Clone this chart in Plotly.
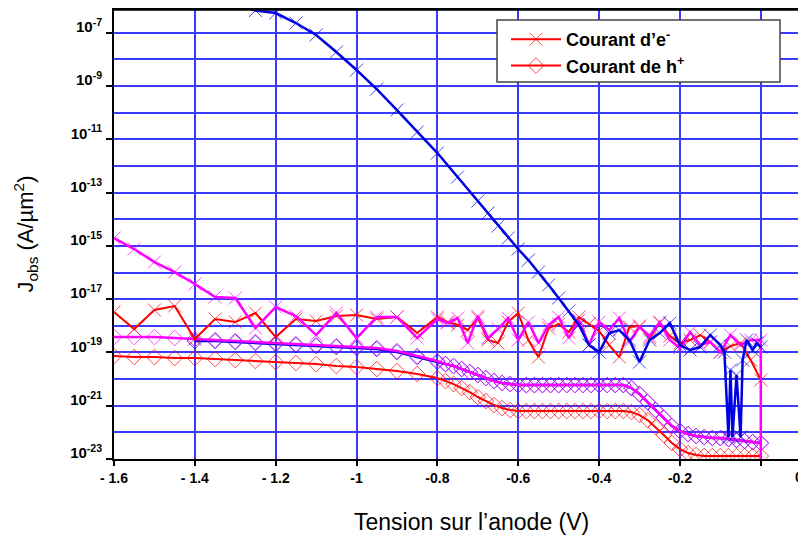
import plotly.graph_objects as go

# ---------------- data ----------------
# noisy electron-current sweeps (x markers)
x_noisy = [-1.6, -1.55, -1.5, -1.45, -1.4, -1.35, -1.3, -1.25, -1.2, -1.15, -1.1, -1.05,
           -1.0, -0.95, -0.9, -0.85, -0.8,
           -0.775, -0.75, -0.725, -0.7, -0.675, -0.65, -0.625, -0.6, -0.575, -0.55,
           -0.525, -0.5, -0.475, -0.45, -0.425, -0.4, -0.375, -0.35, -0.325, -0.3,
           -0.275, -0.25, -0.225, -0.2, -0.175, -0.15, -0.125, -0.1, -0.075, -0.05,
           -0.025, 0.0]

red_e = [3.28e-18, 7.55e-19, 3.90e-18, 5.51e-18, 3.18e-19, 1.79e-18, 1.38e-18, 3.01e-18,
         3.78e-19, 1.79e-18, 1.51e-18, 2.32e-18, 2.53e-18, 1.79e-18, 2.13e-18, 5.33e-19,
         2.13e-18,
         1.38e-18, 1.07e-18, 6.92e-19, 1.95e-18, 2.92e-19, 2.25e-19, 1.38e-18, 3.01e-18,
         2.92e-19, 6.71e-20, 8.20e-19, 1.16e-18, 5.82e-19, 2.13e-18, 1.16e-18, 6.35e-19,
         1.89e-19, 6.71e-20, 8.97e-19, 9.80e-19, 3.47e-19, 1.27e-18, 4.12e-19, 2.25e-19,
         2.92e-19, 4.49e-19, 2.45e-19, 1.03e-19, 1.73e-19, 2.25e-19, 5.18e-20, 9.20e-21]

x_mag_e = x_noisy + [0.0]
mag_e = [1.96e-15, 7.59e-16, 2.47e-16, 1.04e-16, 3.69e-17, 1.20e-17, 1.10e-17, 8.20e-19,
         5.05e-18, 2.32e-18, 4.49e-19, 3.01e-18, 3.47e-19, 2.13e-18, 2.13e-18, 3.47e-19,
         1.79e-18,
         1.27e-18, 1.95e-18, 2.25e-19, 2.32e-18, 3.47e-19, 7.55e-19, 1.95e-18, 2.92e-19,
         1.38e-18, 2.25e-19, 1.07e-18, 2.13e-18, 3.47e-19, 1.64e-18, 1.89e-19, 1.38e-18,
         6.92e-19, 1.95e-18, 2.45e-19, 8.97e-19, 4.12e-19, 1.38e-18, 2.92e-19, 1.46e-19,
         5.82e-19, 1.89e-19, 2.45e-19, 1.03e-19, 4.49e-19, 1.89e-19, 2.92e-19, 2.92e-19,
         3.85e-24]

x_blue_e = [-1.3, -1.25, -1.2, -1.15, -1.1, -1.05, -1.0, -0.95, -0.9, -0.85, -0.8, -0.75,
            -0.7, -0.675, -0.65, -0.625, -0.6, -0.575, -0.55, -0.525, -0.5, -0.475, -0.45,
            -0.425, -0.4, -0.375, -0.35, -0.325, -0.3, -0.275, -0.25, -0.225, -0.2, -0.175,
            -0.15, -0.125, -0.1, -0.09, -0.08, -0.075, -0.07, -0.06, -0.05, -0.045, -0.035,
            -0.02, -0.01, 0.0]
blue_e = [1.19e-6, 6.8e-7, 5.48e-7, 2.31e-7, 8.2e-8, 1.89e-8, 3.98e-9, 7.7e-10, 1.25e-10,
          1.87e-11, 3.05e-12, 3.83e-13, 4.81e-14, 1.70e-14, 5.55e-15, 1.96e-15, 7.59e-16,
          2.93e-16, 1.04e-16, 3.38e-17, 1.10e-17, 3.57e-18, 1.07e-18, 1.89e-19, 1.03e-19,
          5.33e-19, 6.92e-19, 2.92e-19, 4.36e-20, 2.92e-19, 5.33e-19, 1.27e-18, 1.89e-19,
          1.23e-19, 1.59e-19, 4.49e-19, 1.89e-19, 1.03e-19, 6.67e-23, 2.18e-20, 6.67e-23,
          1.42e-20, 6.67e-23, 5.18e-20, 2.92e-19, 1.23e-19, 2.25e-19, 1.59e-19]

# hole-current sweeps (diamond markers)
x_diam = [-1.6, -1.55, -1.5, -1.45, -1.4, -1.35, -1.3, -1.25, -1.2, -1.15, -1.1, -1.05,
          -1.0, -0.95, -0.9, -0.85, -0.8,
          -0.78, -0.76, -0.74, -0.72, -0.7, -0.68, -0.66, -0.64, -0.62, -0.6, -0.58, -0.56,
          -0.54, -0.52, -0.5, -0.48, -0.46, -0.44, -0.42, -0.4, -0.38, -0.36, -0.34, -0.32,
          -0.3, -0.28, -0.26, -0.24, -0.22, -0.2, -0.18, -0.16, -0.14, -0.12, -0.1, -0.08,
          -0.06, -0.04, -0.02, 0.0]

red_h = [7.31e-20, 6.71e-20, 6.71e-20, 6.15e-20, 6.15e-20, 5.65e-20, 5.18e-20, 4.75e-20,
         4.36e-20, 4.00e-20, 3.66e-20, 3.08e-20, 2.83e-20, 2.38e-20, 2.00e-20, 1.55e-20,
         1.09e-20,
         8.44e-21, 6.50e-21, 4.60e-21, 3.26e-21, 2.12e-21, 1.50e-21, 1.06e-21, 8.18e-22,
         6.89e-22, 6.31e-22, 6.31e-22, 6.31e-22, 6.31e-22, 6.31e-22, 6.31e-22, 6.31e-22,
         6.31e-22, 6.31e-22, 6.31e-22, 6.31e-22, 6.31e-22, 6.31e-22, 6.31e-22, 5.79e-22,
         4.47e-22, 2.90e-22, 1.58e-22, 7.93e-23, 3.97e-23, 2.37e-23, 1.67e-23, 1.41e-23,
         1.29e-23, 1.29e-23, 1.29e-23, 1.29e-23, 1.29e-23, 1.29e-23, 1.29e-23, 1.29e-23]

x_blue_h = x_diam[4:]
blue_h = [2.67e-19, 2.67e-19, 2.45e-19, 2.25e-19, 2.06e-19, 1.89e-19, 1.73e-19, 1.59e-19,
          1.46e-19, 1.34e-19, 1.03e-19, 6.71e-20, 4.36e-20,
          3.66e-20, 3.08e-20, 2.38e-20, 1.84e-20, 1.42e-20, 1.09e-20, 8.44e-21, 7.10e-21,
          6.50e-21, 5.97e-21, 5.97e-21, 5.97e-21, 5.97e-21, 5.97e-21, 5.97e-21, 5.97e-21,
          5.97e-21, 5.97e-21, 5.97e-21, 5.97e-21, 5.97e-21, 5.97e-21, 5.97e-21, 4.60e-21,
          2.74e-21, 1.37e-21, 6.89e-22, 3.45e-22, 1.73e-22, 1.12e-22, 8.65e-23, 7.28e-23,
          6.67e-23, 6.12e-23, 6.12e-23, 5.61e-23, 5.15e-23, 4.72e-23, 4.33e-23, 3.97e-23]

mag_h = [3.78e-19, 3.78e-19, 3.78e-19, 3.47e-19, 3.18e-19, 2.92e-19, 2.67e-19, 2.45e-19,
         2.25e-19, 2.06e-19, 1.89e-19, 1.73e-19, 1.59e-19, 1.46e-19, 1.13e-19, 7.31e-20,
         4.75e-20] + blue_h[13:]

x_ticks = [-1.6, -1.4, -1.2, -1.0, -0.8, -0.6, -0.4, -0.2, 0.0]
x_ticktext = ["- 1.6", "- 1.4", "- 1.2", "-1", "-0.8", "-0.6", "-0.4", "-0.2", ""]
y_ticks = [1e-23, 1e-21, 1e-19, 1e-17, 1e-15, 1e-13, 1e-11, 1e-9, 1e-7]
y_ticktext = ["10<sup>-23</sup>", "10<sup>-21</sup>", "10<sup>-19</sup>", "10<sup>-17</sup>",
              "10<sup>-15</sup>", "10<sup>-13</sup>", "10<sup>-11</sup>", "10<sup>-9</sup>",
              "10<sup>-7</sup>"]
y_minor = [1e-22, 1e-20, 1e-18, 1e-16, 1e-14, 1e-12, 1e-10, 1e-8]

RED = "#ff0000"
BLUE = "#0000e6"
MAG = "#ff00ff"
FONT = "Arial, Liberation Sans, sans-serif"

fig = go.Figure()


def add(x, y, color, symbol, name, legend, width=2.0):
    if symbol == "x":
        marker = dict(symbol="x-thin", size=13, line=dict(width=1, color=color), opacity=0.7)
    else:
        marker = dict(symbol="diamond-open", size=12, color=color, line=dict(width=1), opacity=0.7)
    fig.add_trace(go.Scatter(x=x, y=y, mode="lines+markers", name=name, showlegend=legend,
                             line=dict(color=color, width=width), marker=marker))


add(x_diam, red_h, RED, "d", "Courant de h<sup>+</sup>", False)
add(x_blue_h, blue_h, BLUE, "d", "h blue", False, 2.5)
add(x_diam, mag_h, MAG, "d", "h magenta", False, 2.5)
add(x_noisy, red_e, RED, "x", "Courant d\u2019e<sup>-</sup>", True)
add(x_mag_e, mag_e, MAG, "x", "e magenta", False, 2.5)
add(x_blue_e, blue_e, BLUE, "x", "e blue", False, 2.5)
# legend-only copy for hole current (to keep legend order e- then h+)
fig.add_trace(go.Scatter(x=[None], y=[None], mode="lines+markers", name="Courant de h<sup>+</sup>",
                         line=dict(color=RED, width=2),
                         marker=dict(symbol="diamond-open", size=12, color=RED, line=dict(width=1), opacity=0.7)))

# the page body adds an 8 px margin, so the figure is sized to the visible window area
OFF = 8
W, H = 806 - OFF, 537 - OFF
L, R, T, B = 114 - OFF, 3, 9 - OFF, 78
pw, ph = W - L - R, H - T - B


def px(xs):  # screen x -> paper
    return (xs - OFF - L) / pw


def py(ys):  # screen y -> paper
    return 1 - (ys - OFF - T) / ph


fig.update_layout(
    width=W, height=H,
    margin=dict(l=L, r=R, t=T, b=B, autoexpand=False),
    paper_bgcolor="white", plot_bgcolor="white",
    font=dict(family=FONT, color="black"),
    showlegend=True,
    legend=dict(x=px(506), y=py(21), xanchor="left", yanchor="top",
                bgcolor="rgba(0,0,0,0)", borderwidth=0,
                font=dict(family=FONT, size=18, color="black", weight="bold"),
                itemwidth=50, tracegroupgap=0),
    xaxis=dict(range=[-1.6, 0.1044], tickmode="array", tickvals=x_ticks, ticktext=x_ticktext,
               automargin=False,
               showgrid=True, gridcolor="#3a3aff", gridwidth=1.5, zeroline=False,
               showline=True, linecolor="black", linewidth=2, mirror=True,
               ticks="outside", ticklen=5, tickwidth=1.5, tickcolor="black",
               tickfont=dict(family=FONT, size=14, color="black", weight="bold")),
    yaxis=dict(type="log", range=[-23, -6.11], tickmode="array", tickvals=y_ticks,
               ticktext=y_ticktext, showgrid=True, gridcolor="#3a3aff", gridwidth=1.5,
               automargin=False,
               zeroline=False, showline=True, linecolor="black", linewidth=2, mirror=True,
               ticks="outside", ticklen=6, tickwidth=1.5, tickcolor="black",
               ticklabelshift=-6, ticklabelstandoff=1,
               tickfont=dict(family=FONT, size=15, color="black", weight="bold"),
               minor=dict(tickvals=y_minor, showgrid=True, gridcolor="#3a3aff", gridwidth=1.5,
                          ticks=""),
               title=dict(text="J<sub>obs</sub> (A/\u00b5m<sup>2</sup>)", standoff=30,
                          font=dict(family=FONT, size=22, color="black"))),
)

# legend frame and thick top border
fig.add_shape(type="rect", xref="paper", yref="paper", x0=px(497), x1=px(780), y0=py(82), y1=py(20),
              fillcolor="white", line=dict(color="#444444", width=1.5), layer="above")
fig.add_shape(type="line", xref="paper", yref="paper", x0=0, x1=1, y0=1, y1=1,
              line=dict(color="black", width=3.5), layer="above")
fig.add_annotation(text="0", xref="paper", yref="paper", x=px(805), y=py(477), showarrow=False,
                   xanchor="right", yanchor="middle",
                   font=dict(family=FONT, size=14, color="black", weight="bold"))
# x-axis title (placed as in the reference, slightly right of the plot centre)
fig.add_annotation(text="Tension sur l\u2019anode (V)", xref="paper", yref="paper",
                   x=px(471), y=py(522), showarrow=False, xanchor="center", yanchor="middle",
                   font=dict(family=FONT, size=23, color="black"))

fig.write_html("out.html")
